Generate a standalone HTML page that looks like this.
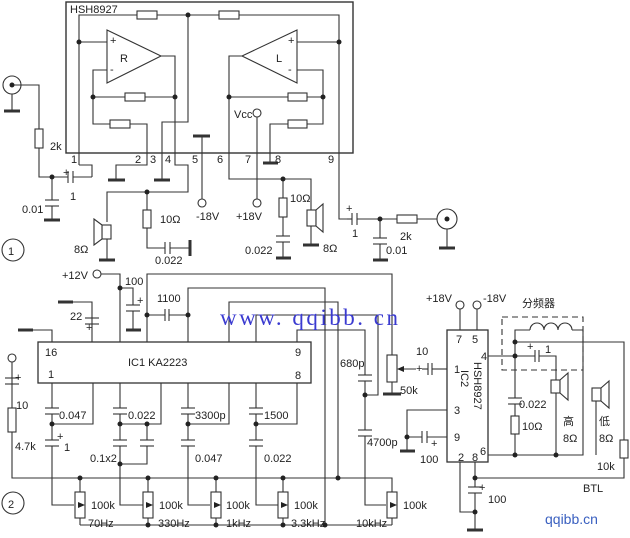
<!DOCTYPE html>
<html><head><meta charset="utf-8"><style>
html,body{margin:0;padding:0;background:#fff;}
svg{display:block;}
text{font-family:"Liberation Sans","Noto Sans CJK SC",sans-serif;font-size:11px;fill:#222;}
</style></head><body>
<svg width="630" height="538" viewBox="0 0 630 538" xmlns="http://www.w3.org/2000/svg">
<g stroke="#333" stroke-width="1.1" fill="none">
<rect x="66" y="2" width="287" height="151" stroke-width="1.4"/>
<polyline points="79,165 79,15 339,15 339,219 347,219"/>
<rect x="137" y="11" width="20" height="8" fill="#fff"/>
<rect x="219" y="11" width="20" height="8" fill="#fff"/>
<polyline points="188,15 188,122 162,122 162,180"/>
<line x1="154" y1="180" x2="170" y2="180" stroke-width="3"/>
<polygon points="107,30 107,83 161,56" fill="#fff"/>
<line x1="79" y1="42" x2="107" y2="42"/>
<polyline points="107,70 93,70 93,124 147,124 147,165 116,165 116,180"/>
<line x1="108" y1="180" x2="125" y2="180" stroke-width="3"/>
<line x1="93" y1="97" x2="175" y2="97"/>
<rect x="125" y="93" width="20" height="8" fill="#fff"/>
<rect x="110" y="120" width="20" height="8" fill="#fff"/>
<polyline points="161,56 175,56 175,165 188,165 188,192 107,192 107,222"/>
<polyline points="79,165 92,165 92,177"/>
<polygon points="297,30 297,83 242,56" fill="#fff"/>
<line x1="297" y1="42" x2="339" y2="42"/>
<polyline points="297,70 323,70 323,124 270,124 270,163"/>
<line x1="263" y1="163" x2="278" y2="163" stroke-width="3"/>
<line x1="229" y1="97" x2="323" y2="97"/>
<rect x="288" y="93" width="19" height="8" fill="#fff"/>
<rect x="288" y="120" width="19" height="8" fill="#fff"/>
<polyline points="242,56 229,56 229,179 311,179 311,210"/>
<line x1="257" y1="117" x2="257" y2="199"/>
<circle cx="257" cy="113" r="4" fill="#fff"/>
<circle cx="257" cy="203" r="4" fill="#fff"/>
<line x1="193" y1="136" x2="210" y2="136" stroke-width="3"/>
<line x1="202" y1="136" x2="202" y2="199"/>
<circle cx="202" cy="203" r="4" fill="#fff"/>
<circle cx="12" cy="85" r="9"/>
<line x1="12" y1="94" x2="12" y2="110"/>
<line x1="4" y1="111" x2="20" y2="111" stroke-width="3"/>
<polyline points="12,85 39,85 39,177 68,177"/>
<rect x="35" y="129" width="8" height="19" fill="#fff"/>
<line x1="68" y1="171" x2="68" y2="183"/><line x1="73" y1="171" x2="73" y2="183"/>
<line x1="73" y1="177" x2="92" y2="177"/>
<polyline points="52,177 52,200"/>
<line x1="45" y1="200" x2="59" y2="200"/><line x1="45" y1="206" x2="59" y2="206"/>
<line x1="52" y1="206" x2="52" y2="220"/>
<line x1="44" y1="220" x2="60" y2="220" stroke-width="3"/>
<rect x="102" y="225" width="9" height="14" fill="#fff"/>
<polygon points="102,225 94,219 94,245 102,239" fill="#fff"/>
<line x1="107" y1="239" x2="107" y2="260"/>
<line x1="99" y1="260" x2="115" y2="260" stroke-width="3"/>
<polyline points="147,192 147,248 165,248"/>
<rect x="143" y="210" width="8" height="18" fill="#fff"/>
<line x1="165" y1="242" x2="165" y2="254"/><line x1="170" y1="242" x2="170" y2="254"/>
<line x1="170" y1="248" x2="190" y2="248"/>
<line x1="190" y1="240" x2="190" y2="256" stroke-width="3"/>
<line x1="283" y1="179" x2="283" y2="236"/>
<rect x="279" y="198" width="8" height="19" fill="#fff"/>
<line x1="276" y1="236" x2="290" y2="236"/><line x1="276" y1="242" x2="290" y2="242"/>
<line x1="283" y1="242" x2="283" y2="258"/>
<line x1="276" y1="258" x2="291" y2="258" stroke-width="3"/>
<rect x="307" y="210" width="9" height="16" fill="#fff"/>
<polygon points="316,210 323,204 323,232 316,226" fill="#fff"/>
<line x1="311" y1="226" x2="311" y2="245"/>
<line x1="303" y1="245" x2="319" y2="245" stroke-width="3"/>
<line x1="352" y1="213" x2="352" y2="225"/><line x1="357" y1="213" x2="357" y2="225"/>
<line x1="347" y1="219" x2="352" y2="219"/>
<line x1="357" y1="219" x2="437" y2="219"/>
<rect x="397" y="215" width="20" height="8" fill="#fff"/>
<line x1="380" y1="219" x2="380" y2="238"/>
<line x1="373" y1="238" x2="387" y2="238"/><line x1="373" y1="244" x2="387" y2="244"/>
<line x1="380" y1="244" x2="380" y2="260"/>
<line x1="373" y1="260" x2="388" y2="260" stroke-width="3"/>
<circle cx="447" cy="219" r="10" fill="#fff"/>
<line x1="447" y1="229" x2="447" y2="247"/>
<line x1="439" y1="248" x2="455" y2="248" stroke-width="3"/>
<circle cx="13" cy="250" r="11"/>

<circle cx="97" cy="274" r="4" fill="#fff"/>
<polyline points="101,274 120,274 120,342"/>
<rect x="38" y="342" width="273" height="41" stroke-width="1.3"/>
<polyline points="58,302 92,302 92,342"/>
<line x1="58" y1="302" x2="73" y2="302" stroke-width="3"/>
<line x1="85" y1="318" x2="99" y2="318"/><line x1="85" y1="324" x2="99" y2="324"/>
<polyline points="18,330 52,330 52,342"/>
<line x1="18" y1="330" x2="33" y2="330" stroke-width="3"/>
<polyline points="120,288 133,288 133,305"/>
<line x1="126" y1="305" x2="140" y2="305"/><line x1="126" y1="311" x2="140" y2="311"/>
<line x1="133" y1="311" x2="133" y2="330"/>
<line x1="126" y1="330" x2="141" y2="330" stroke-width="3"/>
<polyline points="147,342 147,274 392,274 392,355"/>
<line x1="147" y1="315" x2="165" y2="315"/>
<line x1="165" y1="309" x2="165" y2="321"/><line x1="169" y1="309" x2="169" y2="321"/>
<line x1="169" y1="315" x2="188" y2="315"/>
<polyline points="188,342 188,288 325,288 325,525"/>
<polyline points="229,342 229,302 338,302 338,478"/>
<polyline points="256,342 256,315 378,315 378,395 365,395"/>
<polyline points="297,342 297,330 365,330 365,375"/>
<line x1="358" y1="375" x2="372" y2="375"/><line x1="358" y1="381" x2="372" y2="381"/>
<line x1="365" y1="381" x2="365" y2="430"/>
<line x1="358" y1="430" x2="372" y2="430"/><line x1="358" y1="436" x2="372" y2="436"/>
<polyline points="365,436 365,505 386,505"/>
<rect x="387" y="355" width="10" height="27" fill="#fff"/>
<line x1="392" y1="382" x2="392" y2="394"/>
<line x1="383" y1="394" x2="401" y2="394" stroke-width="3"/>
<line x1="398" y1="369" x2="416" y2="369"/>
<circle cx="12" cy="358" r="4" fill="#fff"/>
<polyline points="12,362 12,478 392,478 392,492"/>
<line x1="5" y1="378" x2="19" y2="378"/><line x1="5" y1="384" x2="19" y2="384"/>
<rect x="8" y="408" width="8" height="24" fill="#fff"/>
<line x1="52" y1="383" x2="52" y2="408"/>
<line x1="45" y1="408" x2="59" y2="408"/><line x1="45" y1="414" x2="59" y2="414"/>
<polyline points="52,414 52,424 93,424 93,383"/>
<line x1="52" y1="424" x2="52" y2="440"/>
<line x1="45" y1="440" x2="59" y2="440"/><line x1="45" y1="446" x2="59" y2="446"/>
<polyline points="52,446 52,505 74,505"/>
<line x1="120" y1="383" x2="120" y2="408"/>
<line x1="113" y1="408" x2="127" y2="408"/><line x1="113" y1="414" x2="127" y2="414"/>
<polyline points="120,414 120,424 161,424 161,383"/>
<line x1="120" y1="424" x2="120" y2="440"/>
<line x1="113" y1="440" x2="127" y2="440"/><line x1="113" y1="446" x2="127" y2="446"/>
<line x1="147" y1="424" x2="147" y2="440"/>
<line x1="140" y1="440" x2="154" y2="440"/><line x1="140" y1="446" x2="154" y2="446"/>
<polyline points="147,446 147,464 120,464"/>
<polyline points="120,446 120,505 143,505"/>
<line x1="188" y1="383" x2="188" y2="408"/>
<line x1="181" y1="408" x2="195" y2="408"/><line x1="181" y1="414" x2="195" y2="414"/>
<polyline points="188,414 188,424 229,424 229,383"/>
<line x1="188" y1="424" x2="188" y2="440"/>
<line x1="181" y1="440" x2="195" y2="440"/><line x1="181" y1="446" x2="195" y2="446"/>
<polyline points="188,446 188,505 210,505"/>
<line x1="256" y1="383" x2="256" y2="408"/>
<line x1="249" y1="408" x2="263" y2="408"/><line x1="249" y1="414" x2="263" y2="414"/>
<polyline points="256,414 256,424 297,424 297,383"/>
<line x1="256" y1="424" x2="256" y2="440"/>
<line x1="249" y1="440" x2="263" y2="440"/><line x1="249" y1="446" x2="263" y2="446"/>
<polyline points="256,446 256,505 278,505"/>
<line x1="80" y1="478" x2="80" y2="525"/><line x1="148" y1="478" x2="148" y2="525"/>
<line x1="216" y1="478" x2="216" y2="525"/><line x1="283" y1="478" x2="283" y2="525"/>
<line x1="80" y1="525" x2="392" y2="525"/><line x1="392" y1="518" x2="392" y2="525"/>
<rect x="75" y="492" width="10" height="26" fill="#fff"/>
<rect x="143" y="492" width="10" height="26" fill="#fff"/>
<rect x="211" y="492" width="10" height="26" fill="#fff"/>
<rect x="278" y="492" width="10" height="26" fill="#fff"/>
<rect x="387" y="492" width="10" height="26" fill="#fff"/>
<circle cx="13" cy="503" r="11"/>
<rect x="447" y="330" width="41" height="132" stroke-width="1.3"/>
<line x1="460" y1="309" x2="460" y2="330"/><line x1="477" y1="309" x2="477" y2="330"/>
<circle cx="460" cy="305" r="4" fill="#fff"/><circle cx="477" cy="305" r="4" fill="#fff"/>
<line x1="422" y1="369" x2="428" y2="369"/>
<line x1="428" y1="363" x2="428" y2="375"/><line x1="432" y1="363" x2="432" y2="375"/>
<line x1="432" y1="369" x2="447" y2="369"/>
<polyline points="447,410 407,410 407,437 422,437"/>
<line x1="400" y1="451" x2="415" y2="451" stroke-width="3"/>
<line x1="407" y1="437" x2="407" y2="451"/>
<line x1="422" y1="431" x2="422" y2="443"/><line x1="427" y1="431" x2="427" y2="443"/>
<line x1="427" y1="437" x2="447" y2="437"/>
<polyline points="460,462 460,512 475,512"/>
<line x1="475" y1="462" x2="475" y2="487"/>
<line x1="468" y1="487" x2="482" y2="487"/><line x1="468" y1="493" x2="482" y2="493"/>
<line x1="475" y1="493" x2="475" y2="530"/>
<line x1="467" y1="530" x2="483" y2="530" stroke-width="3"/>
<polyline points="475,478 624,478 624,458"/>
<rect x="620" y="440" width="8" height="18" fill="#fff"/>
<polyline points="624,440 624,342 515,342"/>
<rect x="502" y="317" width="81" height="53" stroke-dasharray="6,4"/>
<polyline points="488,356 515,356 515,330 530,330"/>
<path d="M530,330 a7,7 0 0 1 14,0 a7,7 0 0 1 14,0 a7,7 0 0 1 14,0"/>
<polyline points="572,330 583,330 583,455 488,455"/>
<line x1="515" y1="356" x2="515" y2="398"/>
<line x1="508" y1="398" x2="522" y2="398"/><line x1="508" y1="404" x2="522" y2="404"/>
<line x1="515" y1="404" x2="515" y2="455"/>
<rect x="511" y="416" width="8" height="18" fill="#fff"/>
<line x1="515" y1="356" x2="535" y2="356"/>
<line x1="535" y1="350" x2="535" y2="362"/><line x1="539" y1="350" x2="539" y2="362"/>
<polyline points="539,356 556,356 556,380"/>
<line x1="556" y1="392" x2="556" y2="455"/>
<rect x="551" y="380" width="9" height="13" fill="#fff"/>
<polygon points="560,380 568,373 568,400 560,393" fill="#fff"/>
<rect x="592" y="388" width="9" height="13" fill="#fff"/>
<polygon points="601,388 609,381 609,408 601,401" fill="#fff"/>
<line x1="596" y1="401" x2="596" y2="455"/>
</g>
<g fill="#222">
<circle cx="188" cy="15" r="2.5"/><circle cx="79" cy="42" r="2.5"/><circle cx="339" cy="42" r="2.5"/>
<circle cx="93" cy="97" r="2.5"/><circle cx="175" cy="97" r="2.5"/><circle cx="229" cy="97" r="2.5"/><circle cx="323" cy="97" r="2.5"/>
<circle cx="12" cy="85" r="2.5"/><circle cx="52" cy="177" r="2.5"/><circle cx="147" cy="192" r="2.5"/><circle cx="283" cy="179" r="2.5"/>
<circle cx="380" cy="219" r="2.5"/><circle cx="447" cy="219" r="2.5"/>
<circle cx="120" cy="288" r="2.5"/><circle cx="147" cy="315" r="2.5"/><circle cx="188" cy="315" r="2.5"/><circle cx="365" cy="395" r="2.5"/>
<circle cx="52" cy="424" r="2.5"/><circle cx="120" cy="424" r="2.5"/><circle cx="147" cy="424" r="2.5"/><circle cx="120" cy="464" r="2.5"/>
<circle cx="188" cy="424" r="2.5"/><circle cx="256" cy="424" r="2.5"/>
<circle cx="80" cy="478" r="2.5"/><circle cx="148" cy="478" r="2.5"/><circle cx="216" cy="478" r="2.5"/><circle cx="283" cy="478" r="2.5"/><circle cx="338" cy="478" r="2.5"/>
<circle cx="148" cy="525" r="2.5"/><circle cx="216" cy="525" r="2.5"/><circle cx="283" cy="525" r="2.5"/><circle cx="325" cy="525" r="2.5"/>
<circle cx="407" cy="437" r="2.5"/><circle cx="475" cy="478" r="2.5"/><circle cx="475" cy="512" r="2.5"/>
<circle cx="515" cy="342" r="2.5"/><circle cx="515" cy="356" r="2.5"/><circle cx="515" cy="455" r="2.5"/><circle cx="556" cy="455" r="2.5"/>
<polygon points="85,505 78,502 78,508"/><polygon points="153,505 146,502 146,508"/><polygon points="221,505 214,502 214,508"/><polygon points="288,505 281,502 281,508"/><polygon points="397,505 390,502 390,508"/><polygon points="397,369 404,366 404,372"/>
</g>
<text x="70" y="13">HSH8927</text>
<text x="110" y="44" font-size="9">+</text><text x="110" y="73" font-size="9">-</text><text x="120" y="62">R</text>
<text x="288" y="44" font-size="9">+</text><text x="288" y="73" font-size="9">-</text><text x="276" y="62">L</text>
<text x="71" y="163">1</text><text x="135" y="163">2</text><text x="150" y="163">3</text><text x="165" y="163">4</text>
<text x="192" y="163">5</text><text x="217" y="163">6</text><text x="245" y="163">7</text><text x="275" y="163">8</text><text x="328" y="163">9</text>
<text x="234" y="118">Vcc</text><text x="196" y="220">-18V</text><text x="236" y="220">+18V</text>
<text x="50" y="150">2k</text><text x="63" y="176" font-size="9">+</text><text x="70" y="200">1</text><text x="22" y="213">0.01</text>
<text x="74" y="253">8Ω</text><text x="160" y="223">10Ω</text><text x="155" y="264">0.022</text>
<text x="290" y="202">10Ω</text><text x="245" y="254">0.022</text><text x="323" y="252">8Ω</text>
<text x="346" y="212" font-size="9">+</text><text x="352" y="237">1</text><text x="400" y="240">2k</text><text x="386" y="254">0.01</text>
<text x="8" y="255" font-size="14">1</text><text x="8" y="508" font-size="14">2</text>
<text x="62" y="279">+12V</text><text x="125" y="285">100</text><text x="70" y="320">22</text><text x="157" y="302">1100</text>
<text x="137" y="304" font-size="9">+</text><text x="86" y="331" font-size="9">+</text>
<text x="45" y="356">16</text><text x="48" y="378">1</text><text x="128" y="366">IC1  KA2223</text><text x="295" y="356">9</text><text x="295" y="379">8</text>
<text x="15" y="381" font-size="9">+</text><text x="16" y="409">10</text><text x="15" y="450">4.7k</text>
<text x="59" y="419">0.047</text><text x="57" y="440" font-size="9">+</text><text x="64" y="451">1</text>
<text x="128" y="419">0.022</text><text x="90" y="462">0.1x2</text>
<text x="195" y="419">3300p</text><text x="195" y="462">0.047</text>
<text x="264" y="419">1500</text><text x="264" y="462">0.022</text>
<text x="340" y="367">680p</text><text x="367" y="446">4700p</text><text x="400" y="394">50k</text>
<text x="91" y="509">100k</text><text x="88" y="527">70Hz</text>
<text x="159" y="509">100k</text><text x="158" y="527">330Hz</text>
<text x="226" y="509">100k</text><text x="226" y="527">1kHz</text>
<text x="294" y="509">100k</text><text x="291" y="527">3.3kHz</text>
<text x="403" y="509">100k</text><text x="356" y="527">10kHz</text>
<text x="426" y="302">+18V</text><text x="483" y="302">-18V</text>
<text x="416" y="355">10</text><text x="416" y="372" font-size="9">+</text>
<text x="456" y="343">7</text><text x="472" y="343">5</text><text x="481" y="360">4</text><text x="454" y="373">1</text>
<text x="454" y="414">3</text><text x="454" y="441">9</text><text x="458" y="461">2</text><text x="472" y="461">8</text><text x="480" y="455">6</text>
<text transform="translate(461,370) rotate(90)">IC2</text><text transform="translate(474,362) rotate(90)">HSH8927</text>
<text x="522" y="307" font-size="13">分频器</text>
<text x="527" y="350" font-size="9">+</text><text x="545" y="353">1</text>
<text x="519" y="408">0.022</text><text x="522" y="430">10Ω</text>
<text x="563" y="425" font-size="13">高</text><text x="563" y="442">8Ω</text>
<text x="599" y="425" font-size="13">低</text><text x="599" y="442">8Ω</text>
<text x="597" y="470">10k</text><text x="583" y="492">BTL</text>
<text x="220" y="325" textLength="178" lengthAdjust="spacing" style="font-family:'Liberation Serif',serif;font-size:23px;fill:#3a3ad0;">www. qqibb. cn</text>
<text x="545" y="524" style="font-size:14px;fill:#3a60c0;">qqibb.cn</text>
<text x="431" y="447" font-size="9">+</text>
<text x="420" y="463">100</text>
<text x="479" y="491" font-size="9">+</text>
<text x="488" y="503">100</text>
</svg>
</body></html>
